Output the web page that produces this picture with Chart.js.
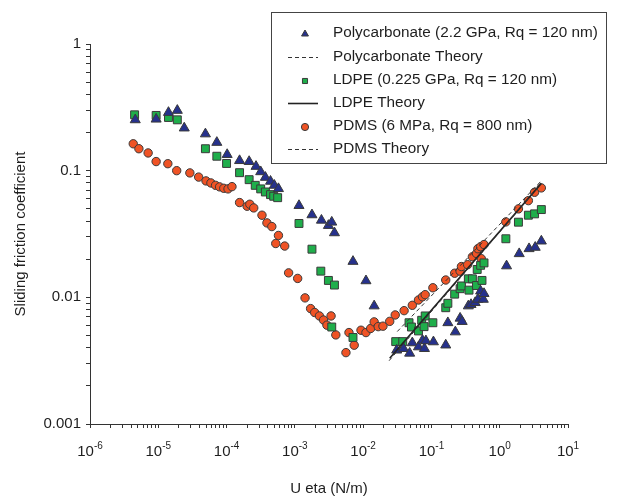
<!DOCTYPE html>
<html lang="en">
<head>
<meta charset="UTF-8">
<title>Sliding friction coefficient</title>
<style>
  html, body { margin: 0; padding: 0; background: #fff; }
  #wrap { width: 618px; height: 500px; }
</style>
</head>
<body>
<div id="wrap"><canvas id="friction" width="618" height="500"></canvas></div>

<script src="https://cdn.jsdelivr.net/npm/chart.js@4.4.1/dist/chart.umd.min.js"></script>
<script>
// measured data: U*eta (N/m) vs sliding friction coefficient
const pcX = [4.6e-6, 9.3e-6, 1.41e-5, 1.9e-5, 2.4e-5, 4.9e-5, 7.2e-5, 1.02e-4, 1.55e-4, 2.14e-4,
             2.7e-4, 3.16e-4, 3.7e-4, 4.4e-4, 5.0e-4, 5.75e-4, 1.15e-3, 1.78e-3, 2.45e-3, 3.1e-3,
             3.47e-3, 3.8e-3, 7.1e-3, 0.011, 0.0145, 0.031, 0.039, 0.048, 0.0525, 0.0646,
             0.074, 0.079, 0.083, 0.107, 0.162, 0.174, 0.224, 0.263, 0.282, 0.347,
             0.38, 0.437, 0.479, 0.525, 0.575, 0.589, 1.26, 1.93, 2.69, 3.31, 4.07];
const pcY = [0.252, 0.255, 0.288, 0.299, 0.217, 0.195, 0.167, 0.134, 0.120, 0.118,
             0.108, 0.098, 0.0885, 0.0824, 0.0766, 0.0721, 0.053, 0.0448, 0.0406, 0.0369,
             0.0392, 0.0323, 0.0192, 0.0135, 0.00855, 0.00383, 0.00394, 0.00362, 0.00437, 0.00406,
             0.00458, 0.00394, 0.00453, 0.00445, 0.0042, 0.0063, 0.00533, 0.00684, 0.00644, 0.00855,
             0.00877, 0.00908, 0.00964, 0.0112, 0.00964, 0.0107, 0.0177, 0.0221, 0.0242, 0.0248, 0.0278];

const ldpeX = [4.5e-6, 9.3e-6, 1.41e-5, 1.9e-5, 4.9e-5, 7.2e-5, 1.0e-4, 1.55e-4, 2.14e-4, 2.63e-4,
               3.16e-4, 3.7e-4, 4.4e-4, 4.9e-4, 5.6e-4, 1.15e-3, 1.78e-3, 2.4e-3, 3.1e-3, 3.8e-3,
               3.47e-3, 7.1e-3, 0.030, 0.038, 0.047, 0.051, 0.0646, 0.072, 0.078, 0.081,
               0.105, 0.162, 0.174, 0.219, 0.263, 0.275, 0.347, 0.398, 0.355, 0.457,
               0.468, 0.525, 0.55, 0.589, 1.23, 1.88, 2.63, 3.24, 4.07];
const ldpeY = [0.276, 0.273, 0.263, 0.252, 0.149, 0.130, 0.114, 0.0964, 0.0849, 0.0766,
               0.0718, 0.0679, 0.0647, 0.0628, 0.0612, 0.0383, 0.024, 0.0161, 0.0136, 0.0125,
               0.00583, 0.00482, 0.00447, 0.00447, 0.0063, 0.00583, 0.00543, 0.00659, 0.00587, 0.00713,
               0.0063, 0.00828, 0.00897, 0.0106, 0.0117, 0.0123, 0.014, 0.014, 0.0114, 0.0124,
               0.0166, 0.0179, 0.0136, 0.0187, 0.029, 0.0392, 0.0445, 0.0456, 0.0493];

const pdmsX = [4.3e-6, 5.2e-6, 7.1e-6, 9.3e-6, 1.38e-5, 1.86e-5, 2.9e-5, 3.9e-5, 5.0e-5, 5.9e-5,
               6.9e-5, 7.9e-5, 9.1e-5, 1.05e-4, 1.2e-4, 1.55e-4, 2.0e-4, 2.19e-4, 2.5e-4, 3.3e-4,
               3.9e-4, 4.6e-4, 5.75e-4, 5.25e-4, 7.1e-4, 8.1e-4, 1.1e-3, 1.41e-3, 1.7e-3, 1.95e-3,
               2.29e-3, 2.63e-3, 2.95e-3, 3.39e-3, 3.98e-3, 6.2e-3, 7.4e-3, 5.6e-3, 9.3e-3, 0.011,
               0.0129, 0.0145, 0.0166, 0.0195, 0.0245, 0.0295, 0.0398, 0.0525, 0.0646, 0.074,
               0.081, 0.105, 0.162, 0.219, 0.263, 0.275, 0.339, 0.398, 0.457, 0.479,
               0.537, 0.525, 0.589, 1.23, 1.88, 2.63, 3.24, 4.07];
const pdmsY = [0.163, 0.149, 0.138, 0.118, 0.1135, 0.100, 0.096, 0.089, 0.083, 0.080,
               0.0766, 0.0745, 0.0726, 0.0718, 0.0748, 0.056, 0.0524, 0.0543, 0.0508, 0.0445,
               0.0387, 0.0362, 0.0308, 0.0266, 0.0254, 0.0156, 0.0141, 0.0099, 0.00815, 0.00759,
               0.00713, 0.00662, 0.00603, 0.00713, 0.00505, 0.00527, 0.00419, 0.00366, 0.0055, 0.00527,
               0.00568, 0.0064, 0.00587, 0.00592, 0.00646, 0.00726, 0.00785, 0.00865, 0.00953, 0.0101,
               0.0105, 0.0119, 0.0137, 0.0155, 0.0161, 0.0175, 0.0181, 0.0209, 0.0222, 0.0242,
               0.0202, 0.0251, 0.0261, 0.0394, 0.0499, 0.058, 0.0675, 0.0731];

// model curves
const pcTheoryX = [0.024, 3.8];
const pcTheoryY = [0.00316, 0.0759];
const ldpeTheoryX = [0.0245, 4.07];
const ldpeTheoryY = [0.00331, 0.0794];
const pdmsTheoryX = [0.0316, 4.07];
const pdmsTheoryY = [0.00537, 0.0832];

// axes
const xExps = [-6, -5, -4, -3, -2, -1, 0, 1];
const yTickLabels = ['0.001', '0.01', '0.1', '1'];

const seriesNames = [
    'Polycarbonate (2.2 GPa, Rq = 120 nm)',
    'Polycarbonate Theory',
    'LDPE (0.225 GPa, Rq = 120 nm)',
    'LDPE Theory',
    'PDMS (6 MPa, Rq = 800 nm)',
    'PDMS Theory'
];

const FONT = 'Arial, "Liberation Sans", Helvetica, sans-serif';
const TEXT = '#1e1e1e';
const AXIS = '#333333';

function pts(xs, ys) {
    return xs.map((x, i) => ({ x: x, y: ys[i] }));
}

function logTicks(minExp, maxExp) {
    const out = [];
    for (let e = minExp; e < maxExp; e++) {
        for (let m = 1; m <= 9; m++) out.push({ value: m * Math.pow(10, e) });
    }
    out.push({ value: Math.pow(10, maxExp) });
    return out;
}

function isDecade(v) {
    const l = Math.log10(v);
    return Math.abs(l - Math.round(l)) < 1e-9;
}

const markerStyle = {
    borderColor: '#3a3a3a',
    borderWidth: 1,
    showLine: false
};

// legend box drawn over the upper right of the plot
const boxLegend = {
    id: 'boxLegend',
    afterDraw(chart) {
        const ctx = chart.ctx;
        const left = 271.5, top = 12.5, right = 606.5, bottom = 163.5;
        const rowY = [33, 57, 80, 103, 126, 149];
        ctx.save();
        ctx.fillStyle = '#fff';
        ctx.fillRect(left, top, right - left, bottom - top);
        ctx.strokeStyle = '#444';
        ctx.lineWidth = 1;
        ctx.strokeRect(left, top, right - left, bottom - top);

        chart.data.datasets.forEach((ds, i) => {
            const y = rowY[i];
            if (ds.showLine) {
                ctx.save();
                ctx.strokeStyle = ds.borderColor;
                ctx.lineWidth = ds.borderWidth;
                ctx.setLineDash(ds.borderDash || []);
                ctx.beginPath();
                ctx.moveTo(288, y + 0.5);
                ctx.lineTo(318, y + 0.5);
                ctx.stroke();
                ctx.restore();
            } else {
                ctx.save();
                ctx.fillStyle = ds.backgroundColor;
                ctx.strokeStyle = '#3a3a3a';
                ctx.lineWidth = 1;
                Chart.helpers.drawPoint(ctx, {
                    pointStyle: ds.pointStyle,
                    radius: ds.pointStyle === 'triangle' ? 4 : 3.6,
                    borderWidth: 1,
                    rotation: 0
                }, 305, y + 1);
                ctx.restore();
            }
        });

        ctx.fillStyle = TEXT;
        ctx.font = '15.3px ' + FONT;
        ctx.textBaseline = 'middle';
        ctx.textAlign = 'left';
        chart.data.datasets.forEach((ds, i) => {
            ctx.fillText(ds.label, 333, rowY[i]);
        });
        ctx.restore();
    }
};

// powers-of-ten labels under the x axis
const powerLabels = {
    id: 'powerLabels',
    afterDraw(chart) {
        const ctx = chart.ctx;
        const xs = chart.scales.x;
        ctx.save();
        ctx.fillStyle = TEXT;
        ctx.textBaseline = 'alphabetic';
        ctx.textAlign = 'left';
        xExps.forEach(e => {
            const px = xs.getPixelForValue(Math.pow(10, e));
            ctx.font = '15px ' + FONT;
            const base = '10';
            const bw = ctx.measureText(base).width;
            ctx.font = '10px ' + FONT;
            const sup = String(e);
            const sw = ctx.measureText(sup).width;
            const x0 = px - (bw + sw) / 2;
            ctx.font = '15px ' + FONT;
            ctx.fillText(base, x0, 456);
            ctx.font = '10px ' + FONT;
            ctx.fillText(sup, x0 + bw, 449);
        });
        ctx.restore();
    }
};

const chart = new Chart(document.getElementById('friction'), {
    type: 'scatter',
    data: {
        datasets: [
            Object.assign({
                label: seriesNames[0],
                data: pts(pcX, pcY),
                pointStyle: 'triangle',
                pointRadius: 5.8,
                backgroundColor: '#26318c',
                order: 1
            }, markerStyle),
            {
                label: seriesNames[1],
                data: pts(pcTheoryX, pcTheoryY),
                showLine: true,
                pointRadius: 0,
                borderColor: '#333',
                borderWidth: 1,
                borderDash: [4, 3],
                order: 0
            },
            Object.assign({
                label: seriesNames[2],
                data: pts(ldpeX, ldpeY),
                pointStyle: 'rect',
                pointRadius: 5.6,
                backgroundColor: '#1fae4b',
                order: 2
            }, markerStyle),
            {
                label: seriesNames[3],
                data: pts(ldpeTheoryX, ldpeTheoryY),
                showLine: true,
                pointRadius: 0,
                borderColor: '#222',
                borderWidth: 1.6,
                order: 0
            },
            Object.assign({
                label: seriesNames[4],
                data: pts(pdmsX, pdmsY),
                pointStyle: 'circle',
                pointRadius: 4.2,
                backgroundColor: '#ef5325',
                order: 3
            }, markerStyle),
            {
                label: seriesNames[5],
                data: pts(pdmsTheoryX, pdmsTheoryY),
                showLine: true,
                pointRadius: 0,
                borderColor: '#333',
                borderWidth: 1,
                borderDash: [4, 3],
                order: 0
            }
        ]
    },
    options: {
        responsive: false,
        animation: false,
        events: [],
        layout: { padding: { top: 44, right: 50, left: 0, bottom: 0 } },
        plugins: {
            legend: { display: false },
            tooltip: { enabled: false }
        },
        scales: {
            x: {
                type: 'logarithmic',
                min: 1e-6,
                max: 10,
                afterBuildTicks: s => { s.ticks = logTicks(-6, 1); },
                afterFit: s => { s.height = 76; },
                grid: {
                    drawOnChartArea: false,
                    drawTicks: true,
                    tickLength: 4,
                    tickColor: AXIS
                },
                border: { display: true, color: AXIS, width: 1 },
                ticks: {
                    autoSkip: false,
                    maxRotation: 0,
                    callback: () => ''
                },
                title: {
                    display: true,
                    text: 'U eta (N/m)',
                    color: TEXT,
                    font: { family: FONT, size: 15 },
                    padding: { top: 0, bottom: 2 }
                }
            },
            y: {
                type: 'logarithmic',
                min: 0.001,
                max: 1,
                afterBuildTicks: s => { s.ticks = logTicks(-3, 0); },
                afterFit: s => { s.width = 90; },
                grid: {
                    drawOnChartArea: false,
                    drawTicks: true,
                    tickLength: 4,
                    tickColor: AXIS
                },
                border: { display: true, color: AXIS, width: 1 },
                ticks: {
                    autoSkip: false,
                    padding: 5,
                    color: TEXT,
                    font: { family: FONT, size: 15 },
                    callback: v => isDecade(v) ? yTickLabels[Math.round(Math.log10(v)) + 3] : ''
                },
                title: {
                    display: true,
                    text: 'Sliding friction coefficient',
                    color: TEXT,
                    font: { family: FONT, size: 15 },
                    padding: { top: 12, bottom: 0 }
                }
            }
        }
    },
    plugins: [powerLabels, boxLegend]
});
</script>
</body>
</html>
